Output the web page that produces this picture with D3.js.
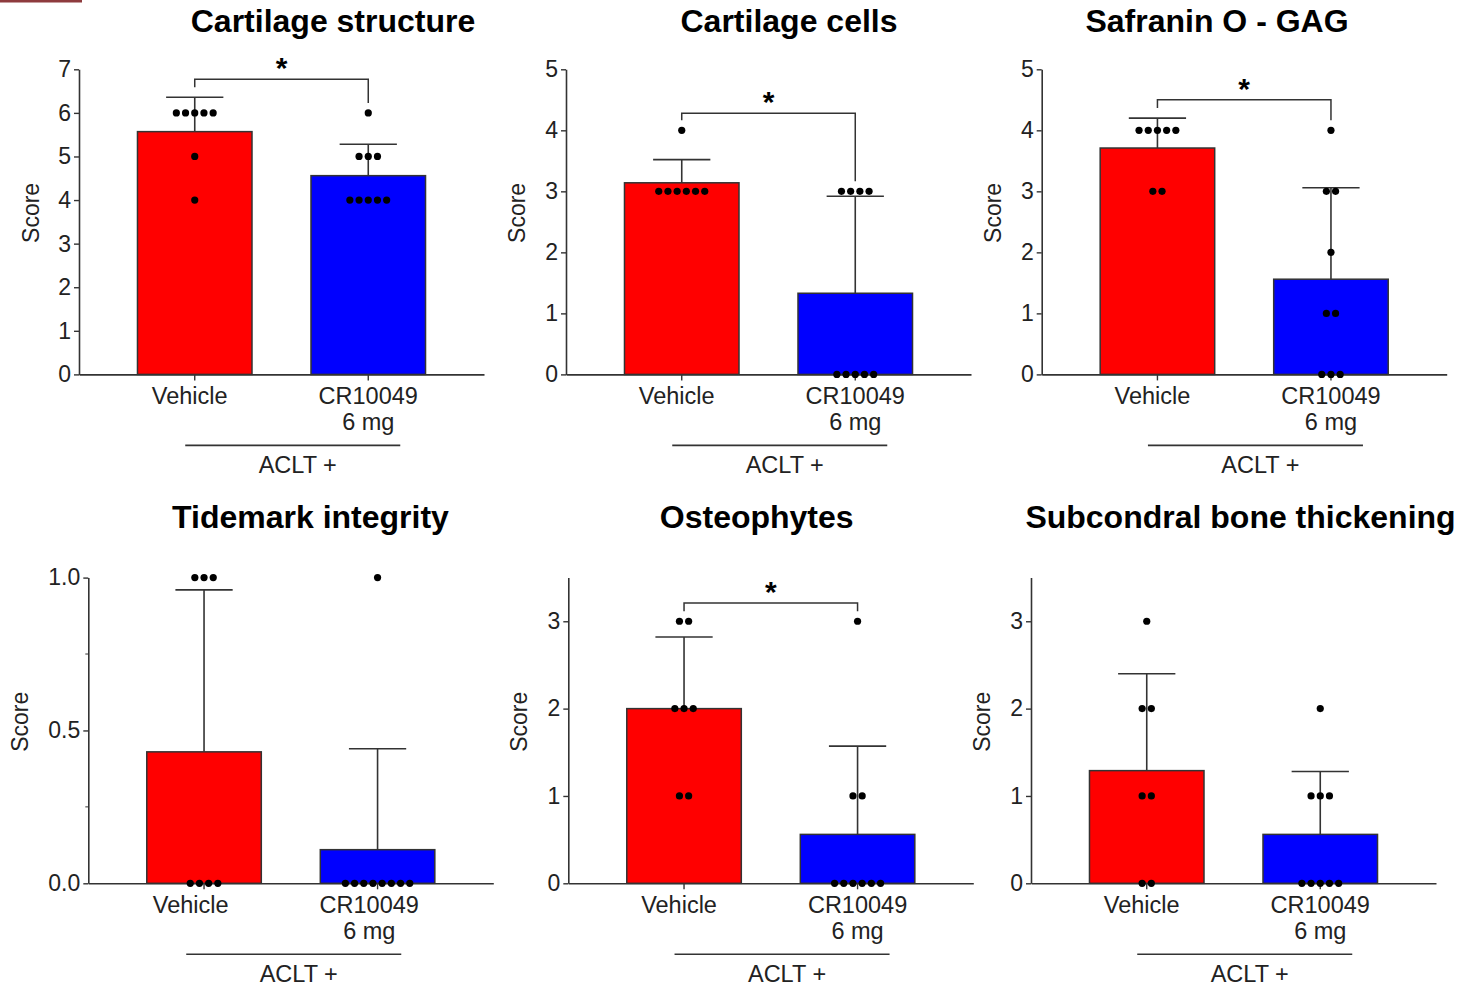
<!DOCTYPE html>
<html>
<head>
<meta charset="utf-8">
<script src="https://cdn.jsdelivr.net/npm/d3@7"></script>
<style>
  html, body { margin: 0; padding: 0; background: #fff; }
  svg { display: block; font-family: "Liberation Sans", Arial, sans-serif; }
</style>
</head>
<body>
<div id="chart"></div>
<script>
// Datos
const panelTitles = ["Cartilage structure", "Cartilage cells", "Safranin O - GAG",
                     "Tidemark integrity", "Osteophytes", "Subcondral bone thickening"];
const groups = ["Vehicle", "CR10049"];
const groupLines = [["Vehicle"], ["CR10049", "6 mg"]];
const yMaxes = [7, 5, 5, 1, 3.5, 3.5];
const yTickValues = [[0, 1, 2, 3, 4, 5, 6, 7], [0, 1, 2, 3, 4, 5], [0, 1, 2, 3, 4, 5],
                     [0, 0.5, 1], [0, 1, 2, 3], [0, 1, 2, 3]];
const vehicleMeans = [5.57, 3.14, 3.71, 0.43, 2.0, 1.29];
const drugMeans = [4.56, 1.33, 1.56, 0.11, 0.56, 0.56];
const vehicleSdTop = [6.36, 3.52, 4.20, 0.96, 2.82, 2.40];
const drugSdTop = [5.28, 2.92, 3.06, 0.44, 1.57, 1.28];
const vehicleScores = [[6, 6, 6, 6, 6, 5, 4], [4, 3, 3, 3, 3, 3, 3], [4, 4, 4, 4, 4, 3, 3],
                       [1, 1, 1, 0, 0, 0, 0], [3, 3, 2, 2, 2, 1, 1], [3, 2, 2, 1, 1, 0, 0]];
const drugScores = [[6, 5, 5, 5, 4, 4, 4, 4, 4], [3, 3, 3, 3, 0, 0, 0, 0, 0],
                    [4, 3, 3, 2, 1, 1, 0, 0, 0], [1, 0, 0, 0, 0, 0, 0, 0, 0],
                    [3, 1, 1, 0, 0, 0, 0, 0, 0], [2, 1, 1, 1, 0, 0, 0, 0, 0]];
const bracketLevels = [6.77, 4.28, 4.5, null, 3.21, null];
const groupLabel = "ACLT +";

// Posiciones de cada panel
const axisXs = [79, 566, 1041.7, 88.3, 568.3, 1031];
const titleXs = [333, 789, 1217, 310.5, 756.7, 1240.5];
const scoreXs = [30.7, 516.7, 993.3, 20, 519.3, 982.3];
const labelShifts = [0, 0, 0, -8.3, 0, 0];
const rows = [{ y0: 374.4, yTop: 69.3, title: 32 }, { y0: 883.3, yTop: 577.6, title: 528 }];
const axisLength = 405;
const colors = ["#ff0000", "#0000ff"];
const ink = "#333";

const width = 1458, height = 986;

const svg = d3.select("#chart")
    .append("svg")
    .attr("width", width)
    .attr("height", height);

// Pequeña marca roja arriba a la izquierda
svg.append("rect")
    .attr("x", 0).attr("y", 0)
    .attr("width", 82).attr("height", 2.5)
    .attr("fill", "#8e3b3e");

panelTitles.forEach((title, i) => {
    const row = rows[i < 3 ? 0 : 1];
    const ax = axisXs[i];
    const g = svg.append("g");

    const x = d3.scaleBand()
        .domain(groups)
        .range([ax, ax + axisLength])
        .paddingInner(0.34)
        .paddingOuter(0.337);

    const y = d3.scaleLinear()
        .domain([0, yMaxes[i]])
        .range([row.y0, row.yTop]);

    const cx = name => x(name) + x.bandwidth() / 2;

    // Título
    g.append("text")
        .attr("x", titleXs[i])
        .attr("y", row.title)
        .attr("text-anchor", "middle")
        .attr("font-size", 32)
        .attr("font-weight", "bold")
        .attr("fill", "#000")
        .text(title);

    // Barras
    const means = [vehicleMeans[i], drugMeans[i]];
    const sdTops = [vehicleSdTop[i], drugSdTop[i]];
    g.selectAll("rect.bar")
        .data(groups)
        .enter()
        .append("rect")
        .attr("class", "bar")
        .attr("x", d => x(d))
        .attr("y", (d, k) => y(means[k]))
        .attr("width", x.bandwidth())
        .attr("height", (d, k) => y(0) - y(means[k]))
        .attr("fill", (d, k) => colors[k])
        .attr("stroke", ink)
        .attr("stroke-width", 1.5);

    // Barras de error (DE)
    groups.forEach((name, k) => {
        const c = cx(name);
        const cap = x.bandwidth() / 4;
        g.append("line")
            .attr("x1", c).attr("x2", c)
            .attr("y1", y(means[k])).attr("y2", y(sdTops[k]))
            .attr("stroke", ink).attr("stroke-width", 1.6);
        g.append("line")
            .attr("x1", c - cap).attr("x2", c + cap)
            .attr("y1", y(sdTops[k])).attr("y2", y(sdTops[k]))
            .attr("stroke", ink).attr("stroke-width", 1.6);
    });

    // Ejes
    const yAxis = d3.axisLeft(y)
        .tickValues(yTickValues[i])
        .tickSize(5)
        .tickSizeOuter(0)
        .tickPadding(3)
        .tickFormat(yMaxes[i] === 1 ? d3.format(".1f") : d3.format("d"));

    const yG = g.append("g")
        .attr("transform", `translate(${ax},0)`)
        .call(yAxis);

    if (yMaxes[i] === 1) {
        // Marcas menores
        yG.selectAll("line.minor")
            .data([0.25, 0.75])
            .enter()
            .append("line")
            .attr("class", "minor")
            .attr("x1", -3).attr("x2", 0)
            .attr("y1", d => y(d)).attr("y2", d => y(d))
            .attr("stroke", ink);
    }

    const xG = g.append("g")
        .attr("transform", `translate(0,${row.y0})`)
        .call(d3.axisBottom(x).tickSize(6).tickSizeOuter(0).tickFormat(""));

    [yG, xG].forEach(a => {
        a.select(".domain").attr("stroke", ink).attr("stroke-width", 1.6);
        a.selectAll(".tick line").attr("stroke", ink).attr("stroke-width", 1.4);
    });
    yG.selectAll(".tick text")
        .attr("font-size", 23)
        .attr("font-family", "Liberation Sans, Arial, sans-serif")
        .attr("fill", "#222");

    // Título del eje Y
    g.append("text")
        .attr("transform", `translate(${scoreXs[i]},${row.y0 - 161.5}) rotate(-90)`)
        .attr("text-anchor", "middle")
        .attr("dominant-baseline", "central")
        .attr("font-size", 23)
        .attr("fill", "#222")
        .text("Score");

    // Etiquetas de categorías
    const shift = labelShifts[i];
    groups.forEach((name, k) => {
        groupLines[k].forEach((line, j) => {
            g.append("text")
                .attr("x", cx(name) + shift + (k === 0 ? -5 : 0))
                .attr("y", row.y0 + 30 + j * 26)
                .attr("text-anchor", "middle")
                .attr("font-size", 23.5)
                .attr("fill", "#222")
                .text(line);
        });
    });

    const lineX1 = cx(groups[0]) + shift - 9.5;
    const lineX2 = cx(groups[1]) + shift + 32;
    g.append("line")
        .attr("x1", lineX1).attr("x2", lineX2)
        .attr("y1", row.y0 + 71).attr("y2", row.y0 + 71)
        .attr("stroke", ink).attr("stroke-width", 1.6);
    g.append("text")
        .attr("x", (lineX1 + lineX2) / 2 + 5)
        .attr("y", row.y0 + 99)
        .attr("text-anchor", "middle")
        .attr("font-size", 23.5)
        .attr("fill", "#222")
        .text(groupLabel);

    // Puntos individuales
    const scoreSets = [vehicleScores[i], drugScores[i]];
    const spacing = 9.2;
    groups.forEach((name, k) => {
        const counts = d3.rollup(scoreSets[k], v => v.length, d => d);
        const pts = [];
        counts.forEach((n, val) => {
            for (let j = 0; j < n; j++) {
                pts.push({ v: val, off: (j - (n - 1) / 2) * spacing });
            }
        });
        g.selectAll(null)
            .data(pts)
            .enter()
            .append("circle")
            .attr("cx", d => cx(name) + d.off)
            .attr("cy", d => y(d.v))
            .attr("r", 3.6)
            .attr("fill", "#000");
    });

    // Corchete de significancia
    if (bracketLevels[i] != null) {
        const by = y(bracketLevels[i]);
        const ends = groups.map((name, k) =>
            Math.min(y(d3.max(scoreSets[k])), y(sdTops[k])) - 10);
        const c0 = cx(groups[0]), c1 = cx(groups[1]);
        g.append("path")
            .attr("d", `M${c0},${ends[0]}V${by}H${c1}V${ends[1]}`)
            .attr("fill", "none")
            .attr("stroke", ink)
            .attr("stroke-width", 1.5);
        g.append("text")
            .attr("x", (c0 + c1) / 2)
            .attr("y", by - 1)
            .attr("text-anchor", "middle")
            .attr("font-size", 30)
            .attr("font-weight", "bold")
            .attr("fill", "#000")
            .text("*");
    }
});
</script>
</body>
</html>
